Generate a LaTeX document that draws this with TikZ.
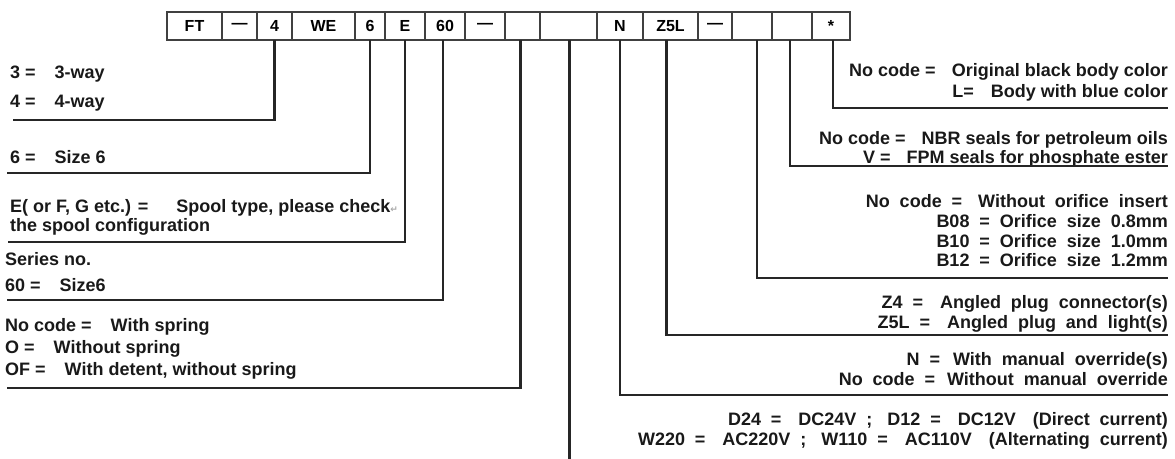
\documentclass[tikz,border=0pt]{standalone}
\usepackage{fontspec}
\setmainfont{Liberation Sans}
\newfontfamily\symfont{DejaVu Sans}
\usetikzlibrary{positioning}

\newcommand\widesp{\spaceskip=0.55em\relax}

\tikzset{
  cell/.style={draw=black!75, line width=1.1pt, minimum height=28pt, inner sep=0pt, outer sep=0pt,
    font=\bfseries\fontsize{16}{16}\selectfont},
  lead/.style={draw=black!85, line width=2.2pt},
  lt/.style={anchor=base west, inner sep=0pt, text=black!90, font=\bfseries\fontsize{18}{18}\selectfont},
  rt/.style={anchor=base east, inner sep=0pt, text=black!90, font=\bfseries\fontsize{18}{18}\selectfont},
  wide/.style={execute at begin node=\widesp}
}

\begin{document}
\begin{tikzpicture}[x=1pt,y=-1pt]
    \useasboundingbox (0,0) rectangle (1175,458);

    % Code row
    \node[cell, minimum width=55pt, anchor=north west] (ft) at (167,12) {FT};
    \node[cell, minimum width=35pt, right=0pt of ft] (da) {---};
    \node[cell, minimum width=35pt, right=0pt of da] (way) {4};
    \node[cell, minimum width=63pt, right=0pt of way] (we) {WE};
    \node[cell, minimum width=30pt, right=0pt of we] (size) {6};
    \node[cell, minimum width=40pt, right=0pt of size] (spool) {E};
    \node[cell, minimum width=40pt, right=0pt of spool] (series) {60};
    \node[cell, minimum width=40pt, right=0pt of series] (db) {---};
    \node[cell, minimum width=35pt, right=0pt of db] (spring) {};
    \node[cell, minimum width=57pt, right=0pt of spring] (volt) {};
    \node[cell, minimum width=46pt, right=0pt of volt] (manual) {N};
    \node[cell, minimum width=55pt, right=0pt of manual] (plug) {Z5L};
    \node[cell, minimum width=34pt, right=0pt of plug] (dc) {---};
    \node[cell, minimum width=40pt, right=0pt of dc] (orifice) {};
    \node[cell, minimum width=40pt, right=0pt of orifice] (seal) {};
    \node[cell, minimum width=38pt, right=0pt of seal] (color) {*};

    % Left texts
    \node[lt] (way3) at (10,78) {3 =\hspace{19pt}3-way};
    \node[lt] (way4) at (10,107) {4 =\hspace{19pt}4-way};
    \node[lt] (size6) at (10,163) {6 =\hspace{19pt}Size 6};
    \node[lt] (spoola) at (10,212) {E( or F, G etc.) =\hspace{28pt}Spool type, please check{\symfont\fontsize{9}{9}\selectfont\color{black!35}↵}};
    \node[lt] (spoolb) at (10,231) {the spool configuration};
    \node[lt] (seriesa) at (5,265) {Series no.};
    \node[lt] (seriesb) at (5,291) {60 =\hspace{19pt}Size6};
    \node[lt] (springa) at (5,331) {No code =\hspace{19pt}With spring};
    \node[lt] (springb) at (5,353) {O =\hspace{19pt}Without spring};
    \node[lt] (springc) at (5,375) {OF =\hspace{19pt}With detent, without spring};

    % Right texts
    \node[rt] (colora) at (1168,76) {No code =\hspace{16pt}Original black body color};
    \node[rt] (colorb) at (1168,97) {L=\hspace{17pt}Body with blue color};
    \node[rt] (seala) at (1168,144) {No code =\hspace{16pt}NBR seals for petroleum oils};
    \node[rt] (sealb) at (1168,163) {V =\hspace{16pt}FPM seals for phosphate ester};
    \node[rt, wide] (orifa) at (1168,207) {No code =\hspace{16pt}Without orifice insert};
    \node[rt, wide] (orifb) at (1168,227) {B08 =\hspace{10pt}Orifice size 0.8mm};
    \node[rt, wide] (orifc) at (1168,247) {B10 =\hspace{10pt}Orifice size 1.0mm};
    \node[rt, wide] (orifd) at (1168,266) {B12 =\hspace{10pt}Orifice size 1.2mm};
    \node[rt, wide] (pluga) at (1168,308) {Z4 =\hspace{17pt}Angled plug connector(s)};
    \node[rt, wide] (plugb) at (1168,328) {Z5L =\hspace{17pt}Angled plug and light(s)};
    \node[rt, wide] (manuala) at (1168,365) {N =\hspace{13pt}With manual override(s)};
    \node[rt, wide] (manualb) at (1168,385) {No code =\hspace{12pt}Without manual override};
    \node[rt, wide] (volta) at (1168,425) {D24 =\hspace{17pt}DC24V ;\hspace{15pt}D12 =\hspace{17pt}DC12V\hspace{17pt}(Direct current)};
    \node[rt, wide] (voltb) at (1168,445) {W220 =\hspace{17pt}AC220V ;\hspace{15pt}W110 =\hspace{17pt}AC110V\hspace{17pt}(Alternating current)};

    % Line ends
    \coordinate (e4) at (13,120);
    \coordinate (e6) at (7,173);
    \coordinate (eE) at (8,242);
    \coordinate (e60) at (7,300);
    \coordinate (esp) at (7,388);
    \coordinate (evolt) at (570,460);
    \coordinate (eN) at (1168,395);
    \coordinate (eZ) at (1168,335);
    \coordinate (eB) at (1168,278);
    \coordinate (eV) at (1168,166);
    \coordinate (eL) at (1168,108);

    % Leaders
    \draw[lead] (way.south) |- (e4);
    \draw[lead] (size.south) |- (e6);
    \draw[lead] (spool.south) |- (eE);
    \draw[lead] ([xshift=-2pt]series.south) |- (e60);
    \draw[lead] ([xshift=-2pt]spring.south) |- (esp);
    \draw[lead] ([xshift=1pt]volt.south) -- ([xshift=1pt]volt.south |- evolt);
    \draw[lead] (manual.south) |- (eN);
    \draw[lead] ([xshift=-4pt]plug.south) |- (eZ);
    \draw[lead] ([xshift=5pt]orifice.south) |- (eB);
    \draw[lead] ([xshift=-2pt]seal.south) |- (eV);
    \draw[lead] ([xshift=2pt]color.south) |- (eL);
\end{tikzpicture}
\end{document}
